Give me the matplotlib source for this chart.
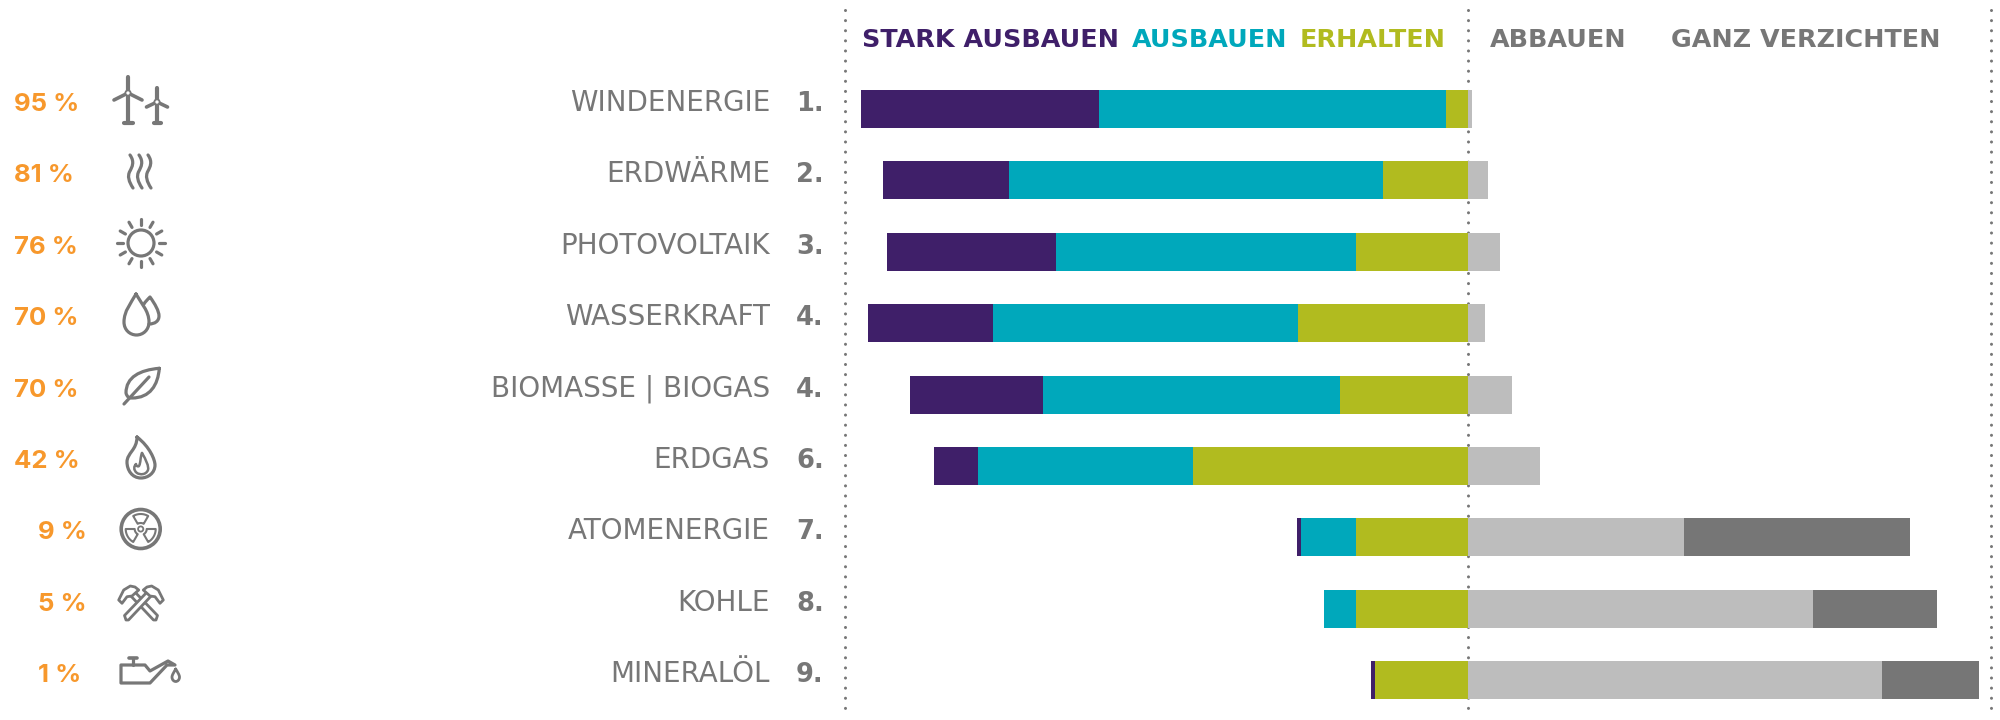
import numpy as np
import matplotlib

matplotlib.use("Agg")
import matplotlib.pyplot as plt
from matplotlib.patches import Circle, PathPatch, Polygon
from matplotlib.path import Path

categories = ["WINDENERGIE", "ERDWÄRME", "PHOTOVOLTAIK", "WASSERKRAFT", "BIOMASSE | BIOGAS",
              "ERDGAS", "ATOMENERGIE", "KOHLE", "MINERALÖL"]
ranks = ["1.", "2.", "3.", "4.", "4.", "6.", "7.", "8.", "9."]
shares = [95, 81, 76, 70, 70, 42, 9, 5, 1]

stark_ausbauen = [38.6, 20.5, 27.3, 20.2, 21.5, 7.2, 0.6, 0.0, 0.6]
ausbauen = [56.2, 60.5, 48.6, 49.4, 48.1, 34.7, 8.9, 5.2, 0.0]
erhalten = [3.5, 13.8, 18.2, 27.5, 20.7, 44.6, 18.2, 18.2, 15.1]
abbauen = [0.6, 3.3, 5.2, 2.7, 7.2, 11.6, 34.9, 55.8, 67.1]
ganz_verzichten = [0.0, 0.0, 0.0, 0.0, 0.0, 0.0, 36.6, 20.2, 15.7]

PURPLE = "#3F1F69"
TEAL = "#00A8BB"
OLIVE = "#B1BB1F"
LIGHT = "#BDBDBD"
DARK = "#767676"
ORANGE = "#F7982C"
GRAY = "#777777"

W, H = 2000, 720
ZERO_PX = 1468
PX_PER_PCT = 6.175
ROW0_PX = 109
ROW_PX = 71.4
BAR_H = 38 / ROW_PX

fig = plt.figure(figsize=(W / 100, H / 100), dpi=100)
fig.patch.set_facecolor("white")

# bars in percent / row units, axes fill the whole figure
ax = fig.add_axes([0, 0, 1, 1])
ax.set_xlim(-ZERO_PX / PX_PER_PCT, (W - ZERO_PX) / PX_PER_PCT)
ax.set_ylim((H - ROW0_PX) / ROW_PX, -ROW0_PX / ROW_PX)
ax.axis("off")

rows = np.arange(len(categories))
erh = np.array(erhalten)
aus = np.array(ausbauen)
ax.barh(rows, -erh, BAR_H, color=OLIVE, zorder=3)
ax.barh(rows, -aus, BAR_H, left=-erh, color=TEAL, zorder=3)
ax.barh(rows, -np.array(stark_ausbauen), BAR_H, left=-erh - aus, color=PURPLE, zorder=3)
ax.barh(rows, abbauen, BAR_H, color=LIGHT, zorder=3)
ax.barh(rows, ganz_verzichten, BAR_H, left=abbauen, color=DARK, zorder=3)

# overlay in pixels for text and icons
px = fig.add_axes([0, 0, 1, 1])
px.set_xlim(0, W)
px.set_ylim(H, 0)
px.axis("off")
px.patch.set_alpha(0)

for x in (845, ZERO_PX, 1991):
    ax.plot([(x - ZERO_PX) / PX_PER_PCT] * 2, [(10 - ROW0_PX) / ROW_PX, (714 - ROW0_PX) / ROW_PX],
            color=GRAY, lw=2.2, ls=(0, (0.01, 3.3)), dash_capstyle="round", zorder=1)

LABEL_FONT = "DejaVu Sans"
PCT_FONT = "Inter"
HEAD_FONT = "DejaVu Sans"

for i, (name, rank, share) in enumerate(zip(categories, ranks, shares)):
    y = ROW0_PX + ROW_PX * i
    px.text(770, y + 2, name, ha="right", va="baseline", fontsize=20, color=GRAY, family=LABEL_FONT)
    px.text(796, y + 2, rank, ha="left", va="baseline", fontsize=18.5, color=GRAY, family=LABEL_FONT,
            weight="bold")
    px.text(14 if share >= 10 else 38, y + 2, f"{share} %", ha="left", va="baseline", fontsize=18.5,
            color=ORANGE, family=PCT_FONT, weight="bold")

headers = [("STARK AUSBAUEN", 862, PURPLE), ("AUSBAUEN", 1132, TEAL), ("ERHALTEN", 1300, OLIVE),
           ("ABBAUEN", 1490, GRAY), ("GANZ VERZICHTEN", 1671, GRAY)]
for label, x, color in headers:
    px.text(x, 47, label, ha="left", va="baseline", fontsize=18.3, color=color, family=HEAD_FONT, weight="bold")


# icons
def line(pts, lw=2.3, closed=False):
    px.add_patch(Polygon(pts, closed=closed, fill=False, ec=GRAY, lw=lw, joinstyle="round", capstyle="round"))


def curve(start, *segments, lw=2.3, fc="none"):
    verts = [start]
    codes = [Path.MOVETO]
    for seg in segments:
        verts.extend(seg)
        codes.extend([Path.CURVE4] * 3)
    px.add_patch(PathPatch(Path(verts, codes), fc=fc, ec=GRAY, lw=lw, capstyle="round", joinstyle="round"))


def turbine(x, top, hub, arm, drop, base, foot):
    line([(x, top), (x, base)], lw=3)
    line([(x - foot, base), (x + foot, base)], lw=3)
    line([(x, hub), (x - arm, hub + drop)], lw=2.6)
    line([(x, hub), (x + arm, hub + drop)], lw=2.6)
    px.add_patch(Circle((x, hub), 2.6, fc="white", ec=GRAY, lw=1.3, zorder=3))


turbine(128, 77, 93, 14, 7, 123, 4.5)
turbine(157, 88, 102, 10.5, 5, 123, 3.5)

for x0 in (130, 139, 148):
    curve((x0, 155), [(x0 + 5, 162), (x0 + 2, 167), (x0, 171)], [(x0 - 3, 176), (x0 - 1, 182), (x0 + 3, 188)])

cx, cy = 141, 243
px.add_patch(Circle((cx, cy), 13, fill=False, ec=GRAY, lw=2.3))
for a in np.deg2rad(np.arange(0, 360, 30)):
    line([(cx + 18 * np.cos(a), cy + 18 * np.sin(a)), (cx + 24 * np.cos(a), cy + 24 * np.sin(a))])

curve((136, 294), [(131, 303), (124, 311), (124, 322)], [(124, 330), (130, 335), (136.5, 335)],
      [(143, 335), (149, 330), (149, 322)], [(149, 311), (141, 303), (136, 294)])
curve((144, 304), [(145, 302), (148, 299), (150, 297)], [(155, 304), (159, 311), (159, 316)],
      [(159, 321), (155, 324), (149, 324)])

curve((159.3, 368.3), [(140, 370), (126, 377), (126, 393)], [(127, 397), (129, 398), (132, 398)],
      [(150, 398), (158, 385), (159.3, 368.3)])
line([(124, 404), (149, 377)])

curve((137, 437), [(150, 447), (155, 460), (155, 465)], [(155, 473), (148, 478), (141, 478)],
      [(132, 478), (127, 470), (127, 462)], [(127, 453), (137, 450), (137, 437)])
curve((142, 453), [(146, 460), (149, 466), (148, 470)], [(146, 475), (140, 475), (137, 473)],
      [(133, 470), (134, 466), (136, 464)], [(136, 466), (138, 467), (139, 466)], [(141, 462), (140, 458), (142, 453)],
      lw=1.8)

cx, cy = 140.7, 529
px.add_patch(Circle((cx, cy), 19.5, fill=False, ec=GRAY, lw=2.6))
px.add_patch(Circle((cx, cy), 2.6, fill=False, ec=GRAY, lw=1.3))
for mid in (-90, 30, 150):
    arc = np.deg2rad(np.linspace(mid - 30, mid + 30, 12))
    outer = np.column_stack([cx + 15 * np.cos(arc), cy + 15 * np.sin(arc)])
    inner = np.column_stack([cx + 6 * np.cos(arc[::-1]), cy + 6 * np.sin(arc[::-1])])
    line(np.vstack([outer, inner]), lw=1.5, closed=True)


def hammer(s, z):
    mx = lambda pts: [(141 + s * (x - 141), y) for x, y in pts]
    handle = mx([(124.5, 615.5), (149.5, 589.5), (153.5, 593.5), (128.5, 620), (126, 620)])
    head = mx([(143.3, 590), (147, 587), (151.7, 586), (158.3, 590), (163.3, 600), (160, 603.3), (155, 596.7),
               (150, 596)])
    px.add_patch(Polygon(handle, closed=True, fc="white", ec=GRAY, lw=2, joinstyle="round", zorder=z))
    px.add_patch(Polygon(head, closed=True, fc="white", ec=GRAY, lw=2, joinstyle="round", zorder=z))


hammer(-1, 2)
hammer(1, 3)

line([(121, 665), (145, 665), (150, 671), (168, 661), (175, 665), (167, 665), (150, 683), (121, 683)], closed=True)
line([(133, 658), (133, 665)])
line([(129, 658), (137, 658)], lw=2.6)
curve((175.7, 669), [(174, 672), (172, 675), (172, 677)], [(172, 680), (174, 681.5), (175.7, 681.5)],
      [(177.5, 681.5), (179.5, 680), (179.5, 677)], [(179.5, 675), (177.5, 672), (175.7, 669)], lw=2)

fig.savefig("out.png", dpi=100, facecolor="white")
